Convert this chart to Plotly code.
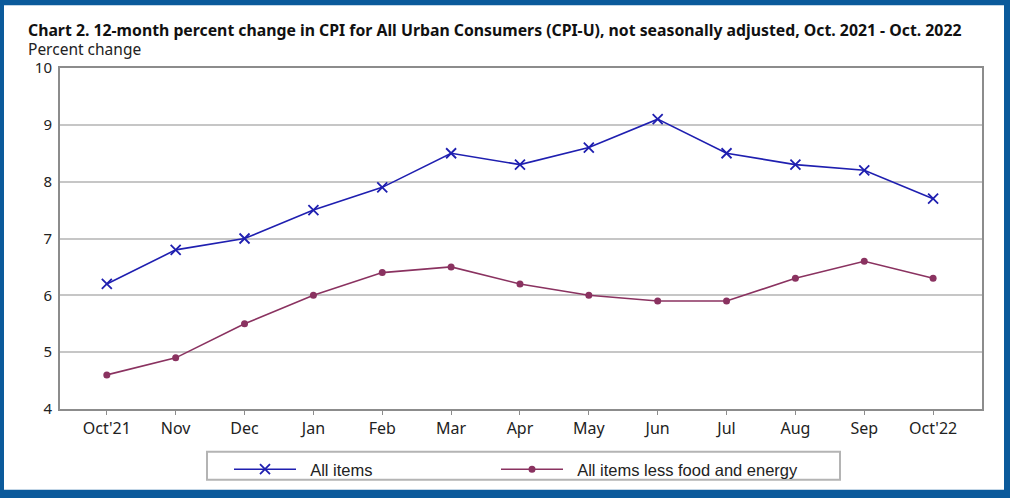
import plotly.graph_objects as go

months = ["Oct'21", "Nov", "Dec", "Jan", "Feb", "Mar", "Apr", "May", "Jun", "Jul", "Aug", "Sep", "Oct'22"]
all_items = [6.2, 6.8, 7.0, 7.5, 7.9, 8.5, 8.3, 8.6, 9.1, 8.5, 8.3, 8.2, 7.7]
core_items = [4.6, 4.9, 5.5, 6.0, 6.4, 6.5, 6.2, 6.0, 5.9, 5.9, 6.3, 6.6, 6.3]
y_ticks = [4, 5, 6, 7, 8, 9, 10]

BLUE = "#1f1fb0"
PURPLE = "#8a3260"
FRAME = "#0b5a9b"

W, H = 1010, 498
L, R, T, B = 60, 28, 68, 88
PW, PH = W - L - R, H - T - B

def px(x):
    return (x - L) / PW

def py(y):
    return (H - B - y) / PH

GAP = "\u00a0\u00a0"

fig = go.Figure()
fig.add_trace(go.Scatter(
    x=months, y=all_items, name=GAP + "All items", mode="lines+markers",
    line=dict(color=BLUE, width=1.6),
    marker=dict(symbol="x-thin", size=10, line=dict(color=BLUE, width=1.8), color=BLUE),
    legend="legend",
))
fig.add_trace(go.Scatter(
    x=months, y=core_items, name=GAP + "All items less food and energy", mode="lines+markers",
    line=dict(color=PURPLE, width=1.6),
    marker=dict(symbol="circle", size=7, color=PURPLE),
    legend="legend2",
))

legend_common = dict(
    orientation="h", yanchor="top", xanchor="left",
    bgcolor="rgba(0,0,0,0)", borderwidth=0,
    font=dict(family="Liberation Sans", size=16.5, color="#222222"),
    itemwidth=62, itemclick=False, itemdoubleclick=False,
)

fig.update_layout(
    width=W, height=H,
    margin=dict(l=L, r=R, t=T, b=B),
    paper_bgcolor=FRAME,
    plot_bgcolor="white",
    showlegend=True,
    legend=dict(x=px(229), y=py(452), **legend_common),
    legend2=dict(x=px(496), y=py(452), **legend_common),
    xaxis=dict(
        type="category", range=[-0.68, 12.71],
        showline=True, linecolor="#8c8c8c", linewidth=2, mirror=True,
        ticks="outside", ticklen=4, tickcolor="#8c8c8c", tickwidth=1,
        showgrid=False,
        tickfont=dict(family="Noto Sans", size=16, color="#222222"),
    ),
    yaxis=dict(
        range=[4, 10], tickvals=y_ticks,
        showline=True, linecolor="#8c8c8c", linewidth=2, mirror=True,
        showgrid=True, gridcolor="#c6c6c6", gridwidth=2,
        ticks="", ticklabelstandoff=3,
        tickfont=dict(family="Noto Sans", size=15, color="#222222"),
        zeroline=False,
    ),
    shapes=[
        dict(type="rect", xref="paper", yref="paper", layer="below",
             x0=px(4), x1=px(1004), y0=py(491), y1=py(5),
             fillcolor="white", line=dict(width=0)),
        dict(type="rect", xref="paper", yref="paper", layer="above",
             x0=px(207), x1=px(840), y0=py(481), y1=py(453),
             fillcolor="rgba(0,0,0,0)", line=dict(color="#b4b4b4", width=2)),
    ],
    annotations=[
        dict(text="<b>Chart 2. 12-month percent change in CPI for All Urban Consumers (CPI-U), not seasonally adjusted, Oct. 2021 - Oct. 2022</b>",
             xref="paper", yref="paper", x=px(26), y=py(30), xanchor="left", yanchor="middle",
             showarrow=False, font=dict(family="Noto Sans", size=15.8, color="#111111")),
        dict(text="Percent change",
             xref="paper", yref="paper", x=px(26), y=py(49), xanchor="left", yanchor="middle",
             showarrow=False, font=dict(family="Noto Sans", size=15.5, color="#222222")),
    ],
)

fig.write_html("out.html")
